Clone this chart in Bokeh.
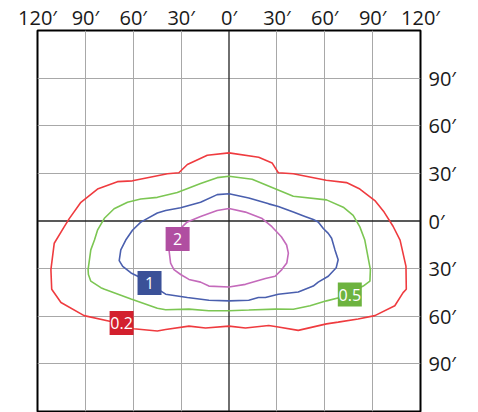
from bokeh.plotting import figure
from bokeh.models import LinearAxis, FixedTicker, Span, Range1d
from bokeh.embed import file_html
from bokeh.resources import INLINE
from bokeh.core.properties import value

# ---- data (feet) ----
x_ticks = [-120, -90, -60, -30, 0, 30, 60, 90, 120]
y_ticks = [-90, -60, -30, 0, 30, 60, 90]
grid_ticks = [-90, -60, -30, 30, 60, 90]

levels = ["0.2", "0.5", "1", "2"]
line_colors = ["#ef3b3f", "#7cc653", "#4a5fae", "#c46abb"]
box_colors = ["#d3202e", "#6db33f", "#3b5198", "#b04ea1"]

red_x = [0, 18.6, 27, 30.9, 40.3, 60.9, 73.6, 82, 91.4, 97.2, 102.8, 107.2, 110.9, 111.1, 109.1,
         103.9, 91.4, 80.9, 68.4, 61.1, 43.4, 30.9, 24.9, 10.3, 0, -14.7, -25.1, -39.7, -44.9, -59.7,
         -74.1, -90.8, -105.3, -111.1, -111.6, -109.5, -103.3, -100.1, -92.8, -82.4, -69.9, -60.5,
         -51.1, -38.6, -31.4, -26.1, -13.6, 0]
red_y = [42.9, 40.2, 36.6, 30.4, 29.8, 25.7, 24.2, 20.1, 12.9, 5.6, -3.3, -12, -28.6, -43, -45.1,
         -53.4, -59.6, -61.7, -63.7, -64.8, -68.9, -66.8, -65.8, -67.4, -66.2, -67.4, -66.2, -68.3,
         -69.3, -67.9, -63.3, -59.6, -51.3, -43, -30.6, -14, -3.7, 1.5, 11.8, 20.1, 24.8, 25.3, 27.3,
         29.8, 30.4, 35.6, 41.4, 42.9]

green_x = [0, 14.5, 27, 40.3, 61.1, 71.6, 77.8, 82, 85.1, 88.6, 88.3, 84.1, 69.5, 61.1, 50.8, 40.3,
           29.1, 12.4, 0, -12.6, -25.1, -39.7, -44.9, -61.4, -78, -80.3, -86.6, -88.1, -88.3, -86.6,
           -84.3, -82.4, -78.1, -72, -63.6, -55.3, -44.9, -32.4, -17.8, -7.4, 0]
green_y = [28.2, 26.3, 21.1, 15.6, 13.3, 8.7, 3.5, -3.7, -12, -30.6, -37.9, -41, -48.2, -50.3, -53.4,
           -55.6, -55.5, -56.1, -56.5, -56.5, -55.5, -55.9, -55, -49.2, -43, -42, -37.9, -33.7, -30.6,
           -18.2, -12, -5.8, 1.7, 7.7, 11.8, 13.9, 14.9, 18, 23.6, 27.3, 28.2]

blue_x = [0, 12.4, 24.9, 30.9, 40.3, 47.6, 52.8, 55.9, 59.1, 62.2, 64.3, 66.4, 68.4, 67.2, 62.2, 55.9,
          52.8, 43.4, 30.9, 22.8, 18.4, 12.4, 0, -12.6, -26.1, -39.7, -57.2, -61.4, -66.6, -68.8,
          -67.8, -64.7, -60.5, -55.1, -53.3, -44.9, -39.7, -30.3, -17.8, -7.4, 0]
blue_y = [17.2, 14.5, 10.8, 9.1, 5.7, 2.9, 0.9, -0.6, -4.7, -7.8, -10.9, -18.2, -24.4, -29.4, -34.8,
          -38.5, -41, -44.7, -46.1, -48.2, -48.2, -49.9, -50.3, -49.9, -48.2, -46.1, -34.8, -32.7,
          -28.6, -25, -18.2, -12, -5.8, -0.6, 0.4, 5, 6.6, 8.3, 11.8, 16.6, 17.2]

magenta_x = [0, 10.3, 20.8, 26.9, 32.8, 36.1, 37.2, 36.2, 33.1, 28.9, 22.8, 10.3, 0, -12.6, -17.8,
             -25.1, -30.3, -34.5, -36.6, -37.6, -36.6, -32.8, -26.1, -17.8, -7.4, 0]
magenta_y = [7.9, 5.6, 1.5, -3.6, -9.9, -15.1, -20.2, -26.5, -30.6, -34.8, -36.2, -39.9, -41.6, -41,
             -38.5, -36.8, -33.7, -30.6, -26.5, -18.2, -12, -7, -0.6, 2.9, 6.6, 7.9]

label_x = [-67.3, 75.7, -49.8, -32.2]
label_y = [-64.2, -46.3, -39.1, -11.4]

contours_x = [red_x, green_x, blue_x, magenta_x]
contours_y = [red_y, green_y, blue_y, magenta_y]

# ---- figure ----
p = figure(width=478, height=412, output_backend="svg", toolbar_location=None,
           x_range=Range1d(-120, 120), y_range=Range1d(-120, 120),
           x_axis_location=None, y_axis_location=None,
           min_border_left=37, min_border_right=58, min_border_top=29, min_border_bottom=1)
p.outline_line_color = "black"
p.outline_line_width = 2
p.background_fill_color = "white"
p.border_fill_color = "white"

p.xgrid.ticker = FixedTicker(ticks=grid_ticks)
p.ygrid.ticker = FixedTicker(ticks=grid_ticks)
for g in (p.xgrid, p.ygrid):
    g.grid_line_color = "#a8a8a8"
    g.grid_line_width = 1

p.add_layout(Span(location=0, dimension="height", line_color="#222222", line_width=1.3, level="underlay"))
p.add_layout(Span(location=0, dimension="width", line_color="#222222", line_width=1.3, level="underlay"))

def style_axis(ax):
    ax.axis_line_color = None
    ax.major_tick_line_color = None
    ax.minor_tick_line_color = None
    ax.major_tick_out = 0
    ax.major_tick_in = 0
    ax.major_label_text_font = "Open Sans"
    ax.major_label_text_font_size = "20px"
    ax.major_label_text_color = "#1a1a1a"

top = LinearAxis(ticker=FixedTicker(ticks=x_ticks),
                 major_label_overrides={t: f"{abs(t)}\u2032" for t in x_ticks})
style_axis(top)
top.major_label_standoff = 0
p.add_layout(top, "above")

right = LinearAxis(ticker=FixedTicker(ticks=y_ticks),
                   major_label_overrides={t: f"{abs(t)}\u2032" for t in y_ticks})
style_axis(right)
right.major_label_standoff = 8
p.add_layout(right, "right")

for xs, ys, c in zip(contours_x, contours_y, line_colors):
    p.line(xs, ys, line_color=c, line_width=1.6)

p.scatter(label_x, label_y, marker="square", size=24, fill_color=box_colors, line_color=None)
p.text(label_x, label_y, text=levels, text_align="center", text_baseline="middle",
       text_color="white", text_font=value("Open Sans"), text_font_size="16px")

open("out.html", "w").write(file_html(p, INLINE))
